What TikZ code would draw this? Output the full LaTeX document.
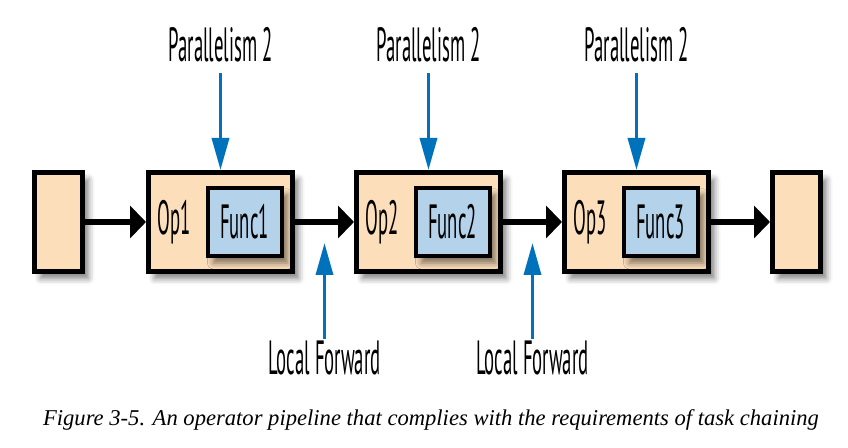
\documentclass[tikz,border=0pt]{standalone}
\usepackage{fontspec}
\usepackage{graphicx}
\usetikzlibrary{arrows.meta,positioning,shadows.blur}

\newfontfamily\tagfont{PT Sans}
\newfontfamily\capfont{Liberation Serif}
\definecolor{peach}{RGB}{252,222,186}
\definecolor{funcblue}{RGB}{180,211,234}
\definecolor{hintblue}{RGB}{0,114,188}
\newcommand{\squeeze}[1]{\scalebox{0.39}[1]{#1}}

\begin{document}
\begin{tikzpicture}%
  [x=0.5pt, y=-0.5pt,
   node distance=104pt,
   on grid,
   shade/.style={blur shadow={shadow xshift=3pt, shadow yshift=-3.5pt, shadow blur radius=3pt, shadow opacity=50}},
   opbox/.style={draw=black, fill=peach, line width=2.5pt, inner sep=0pt,
                 minimum width=72pt, minimum height=49.5pt, shade},
   endbox/.style={opbox, minimum width=24pt},
   funcbox/.style={draw=black, fill=funcblue, line width=2pt, inner sep=0pt,
                   minimum width=37pt, minimum height=34pt, shade,
                   font=\tagfont\fontsize{24}{28}\selectfont},
   note/.style={inner sep=1pt, font=\tagfont\fontsize{24}{28}\selectfont},
   flow/.style={line width=3pt, -{Triangle[length=8pt,width=16pt]}},
   hint/.style={hintblue, line width=1.75pt, -{Triangle[length=16pt,width=8.5pt]}},
   caption/.style={font=\capfont\itshape\fontsize{11.3}{13}\selectfont}
  ]
\useasboundingbox (0,0) rectangle (848,448);

% pipeline
\node[opbox]  (op1) at (220.5,222)      {};
\node[opbox]  (op2) [right=of op1]      {};
\node[opbox]  (op3) [right=of op2]      {};
\node[endbox] (src) [left=81pt of op1]  {};
\node[endbox] (sink) [right=80pt of op3] {};

\node[note]    (name1) [left=23pt of op1]  {\squeeze{Op1}};
\node[note]    (name2) [left=23pt of op2]  {\squeeze{Op2}};
\node[note]    (name3) [left=23pt of op3]  {\squeeze{Op3}};
\node[funcbox] (func1) [right=12pt of op1] {\squeeze{Func1}};
\node[funcbox] (func2) [right=12pt of op2] {\squeeze{Func2}};
\node[funcbox] (func3) [right=12pt of op3] {\squeeze{Func3}};

\path[flow]
   (src) edge (op1)
   (op1) edge (op2)
   (op2) edge (op3)
   (op3) edge (sink);

% parallelism
\node[note] (par1) [above=88.5pt of op1] {\squeeze{Parallelism 2}};
\node[note] (par2) [above=88.5pt of op2] {\squeeze{Parallelism 2}};
\node[note] (par3) [above=88.5pt of op3] {\squeeze{Parallelism 2}};
\path[hint, shorten <=4pt]
   (par1) edge (op1)
   (par2) edge (op2)
   (par3) edge (op3);

% local forward
\path (op1) -- coordinate (gap1) (op2);
\path (op2) -- coordinate (gap2) (op3);
\coordinate (tip1) at ([yshift=-10.5pt]gap1);
\coordinate (tip2) at ([yshift=-10.5pt]gap2);
\node[note] (fwd1) at ([yshift=-68pt]gap1) {\squeeze{Local Forward}};
\node[note] (fwd2) at ([yshift=-68pt]gap2) {\squeeze{Local Forward}};
\path[hint]
   (fwd1) edge (tip1)
   (fwd2) edge (tip2);

\node[caption] (cap) at (431,420) {Figure 3-5. An operator pipeline that complies with the requirements of task chaining};
\end{tikzpicture}
\end{document}
